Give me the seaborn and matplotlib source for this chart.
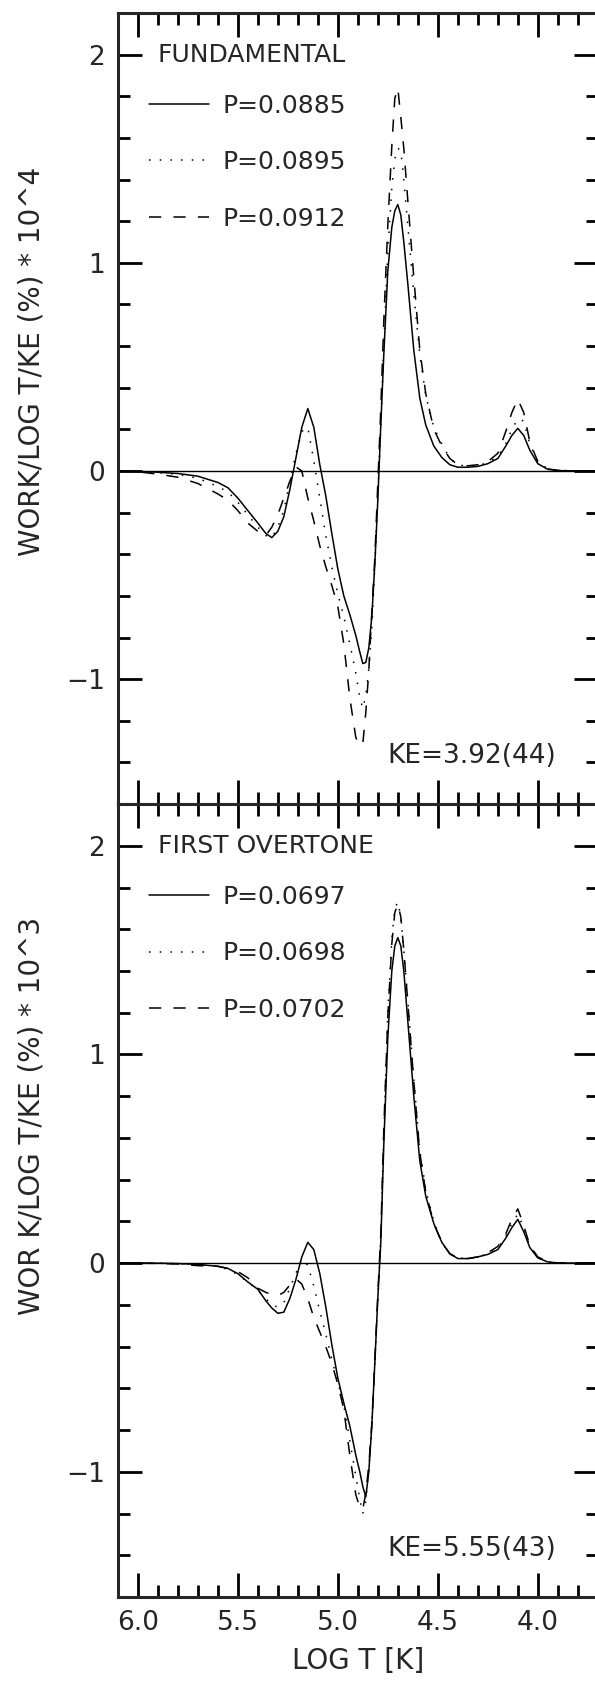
import numpy as np
import pandas as pd
import matplotlib
matplotlib.use('Agg')
import matplotlib.pyplot as plt
from matplotlib.ticker import MultipleLocator
import seaborn as sns

# shared temperature grid (descending, hot -> cool)
log_t = [6.10, 6.00, 5.90, 5.80, 5.70, 5.60, 5.55, 5.50, 5.45, 5.40,
         5.36, 5.33, 5.30, 5.27, 5.24, 5.21, 5.18, 5.15, 5.12, 5.09,
         5.06, 5.03, 5.00, 4.97, 4.94, 4.91, 4.89, 4.875, 4.86, 4.845,
         4.83, 4.815, 4.80, 4.785, 4.77, 4.75, 4.73, 4.715, 4.70, 4.685,
         4.67, 4.65, 4.62, 4.59, 4.56, 4.52, 4.48, 4.44, 4.40, 4.35,
         4.30, 4.25, 4.20, 4.16, 4.13, 4.10, 4.07, 4.04, 4.00, 3.95,
         3.90, 3.80, 3.70]

# fundamental mode, work * 1e4
fund_labels = ['P=0.0885', 'P=0.0895', 'P=0.0912']
fund_0885 = [0, -0.002, -0.006, -0.012, -0.025, -0.055, -0.08, -0.13, -0.19, -0.25,
             -0.30, -0.32, -0.29, -0.22, -0.09, 0.06, 0.21, 0.30, 0.21, 0.03,
             -0.12, -0.30, -0.47, -0.60, -0.69, -0.79, -0.87, -0.925, -0.92, -0.85,
             -0.70, -0.45, -0.14, 0.22, 0.56, 0.96, 1.17, 1.25, 1.28, 1.23,
             1.10, 0.90, 0.58, 0.35, 0.22, 0.12, 0.065, 0.03, 0.018, 0.018,
             0.022, 0.035, 0.06, 0.12, 0.17, 0.205, 0.17, 0.10, 0.035, 0.008,
             0.002, 0, 0]
fund_0895 = [0, -0.003, -0.008, -0.016, -0.035, -0.075, -0.10, -0.15, -0.21, -0.27,
             -0.31, -0.32, -0.27, -0.19, -0.05, 0.08, 0.19, 0.21, 0.05, -0.13,
             -0.31, -0.46, -0.59, -0.70, -0.83, -0.97, -1.09, -1.14, -1.08, -0.95,
             -0.75, -0.45, -0.12, 0.22, 0.60, 1.05, 1.36, 1.50, 1.55, 1.54,
             1.40, 1.18, 0.85, 0.56, 0.36, 0.21, 0.13, 0.06, 0.03, 0.022,
             0.026, 0.04, 0.07, 0.13, 0.20, 0.25, 0.24, 0.13, 0.045, 0.01,
             0.003, 0, 0]
fund_0912 = [0, -0.004, -0.015, -0.03, -0.06, -0.11, -0.14, -0.19, -0.25, -0.29,
             -0.31, -0.27, -0.21, -0.13, -0.05, 0.02, 0.0, -0.13, -0.24, -0.36,
             -0.46, -0.55, -0.65, -0.83, -1.09, -1.28, -1.32, -1.31, -1.16, -0.96,
             -0.68, -0.42, -0.06, 0.30, 0.72, 1.18, 1.56, 1.79, 1.84, 1.70,
             1.55, 1.30, 0.93, 0.58, 0.37, 0.20, 0.12, 0.06, 0.03, 0.025,
             0.03, 0.045, 0.085, 0.19, 0.28, 0.345, 0.28, 0.14, 0.045, 0.01,
             0.003, 0, 0]

# first overtone, work * 1e3
over_labels = ['P=0.0697', 'P=0.0698', 'P=0.0702']
over_0697 = [0, 0, 0, -0.002, -0.006, -0.015, -0.025, -0.05, -0.09, -0.125,
             -0.18, -0.215, -0.24, -0.235, -0.17, -0.08, 0.03, 0.10, 0.065, -0.05,
             -0.21, -0.39, -0.55, -0.67, -0.78, -0.92, -1.00, -1.07, -1.12, -1.00,
             -0.78, -0.48, -0.17, 0.10, 0.57, 1.08, 1.40, 1.52, 1.56, 1.52,
             1.40, 1.16, 0.80, 0.49, 0.32, 0.19, 0.10, 0.045, 0.022, 0.022,
             0.03, 0.042, 0.065, 0.12, 0.17, 0.21, 0.15, 0.075, 0.025, 0.006,
             0.001, 0, 0]
over_0698 = [0, 0, 0, -0.002, -0.006, -0.015, -0.03, -0.055, -0.09, -0.13,
             -0.17, -0.20, -0.21, -0.19, -0.12, -0.05, 0.02, -0.01, -0.11, -0.23,
             -0.34, -0.46, -0.57, -0.68, -0.85, -1.02, -1.13, -1.20, -1.14, -0.98,
             -0.78, -0.48, -0.17, 0.12, 0.62, 1.20, 1.55, 1.70, 1.73, 1.66,
             1.50, 1.26, 0.88, 0.54, 0.35, 0.20, 0.10, 0.045, 0.025, 0.022,
             0.03, 0.045, 0.07, 0.13, 0.19, 0.235, 0.17, 0.08, 0.027, 0.007,
             0.001, 0, 0]
over_0702 = [0, 0, -0.001, -0.004, -0.012, -0.015, -0.025, -0.04, -0.07, -0.12,
             -0.14, -0.15, -0.155, -0.14, -0.105, -0.075, -0.10, -0.17, -0.26, -0.33,
             -0.40, -0.48, -0.58, -0.70, -0.92, -1.11, -1.17, -1.18, -1.10, -0.97,
             -0.77, -0.47, -0.15, 0.14, 0.64, 1.18, 1.53, 1.68, 1.72, 1.66,
             1.50, 1.25, 0.87, 0.53, 0.34, 0.19, 0.10, 0.045, 0.025, 0.022,
             0.03, 0.05, 0.08, 0.14, 0.21, 0.26, 0.18, 0.085, 0.03, 0.007,
             0.001, 0, 0]

panels = [
    ('FUNDAMENTAL', fund_labels, [fund_0885, fund_0895, fund_0912],
     'WORK/LOG T/KE (%) * 10^4', 'KE=3.92(44)', 0.559),
    ('FIRST OVERTONE', over_labels, [over_0697, over_0698, over_0702],
     'WOR K/LOG T/KE (%) * 10^3', 'KE=5.55(43)', 0.607),
]

sns.set_style('ticks')
plt.rcParams['font.family'] = ['DejaVu Sans']
plt.rcParams['axes.linewidth'] = 2.2

fig = plt.figure(figsize=(5.95, 16.92), dpi=100)
ax_top = fig.add_axes([0.198, 0.5248, 0.8067, 0.4675])
ax_bot = fig.add_axes([0.198, 0.0561, 0.8067, 0.4687])

for ax, (title, labels, series, ylab, ke, ylab_y) in zip([ax_top, ax_bot], panels):
    df = pd.DataFrame({
        'logT': log_t * 3,
        'work': series[0] + series[1] + series[2],
        'period': np.repeat(labels, len(log_t)),
    })
    dashes = {labels[0]: '', labels[1]: (1, 6), labels[2]: (8, 8)}
    sns.lineplot(data=df, x='logT', y='work', style='period', style_order=labels,
                 dashes=dashes, color='black', lw=1.1, sort=False,
                 estimator=None, ax=ax)
    ax.axhline(0, color='black', lw=1.0, zorder=0)

    leg = ax.get_legend()
    for h in leg.legend_handles:
        h.set_color('black')
        h.set_linewidth(1.1)
    sns.move_legend(ax, 'upper left', bbox_to_anchor=(0.065, 0.898), title=None,
                    frameon=False, fontsize=18, handlelength=2.4,
                    handletextpad=0.55, labelspacing=1.3, borderpad=0,
                    borderaxespad=0)

    ax.text(5.9, 2.0, title, fontsize=18, ha='left', va='center')
    ax.text(4.75, -1.37, ke, fontsize=19, ha='left', va='center')

    ax.set_xlim(6.1, 3.7)
    ax.set_ylim(-1.6, 2.2)
    ax.xaxis.set_major_locator(MultipleLocator(0.5))
    ax.xaxis.set_minor_locator(MultipleLocator(0.1))
    ax.yaxis.set_major_locator(MultipleLocator(1))
    ax.yaxis.set_minor_locator(MultipleLocator(0.2))
    ax.tick_params(which='both', direction='in', top=True, right=True,
                   labelsize=19, pad=9, color='black')
    ax.tick_params(which='major', length=17, width=2)
    ax.tick_params(which='minor', length=8.5, width=2)
    ax.set_ylabel(ylab, fontsize=20)
    ax.yaxis.set_label_coords(-0.18, ylab_y)
    ax.yaxis.label.set_va('center')
    for s in ax.spines.values():
        s.set_visible(True)

ax_top.set_xlabel('')
ax_top.tick_params(axis='x', labelbottom=False)
ax_bot.set_xlabel('LOG T [K]', fontsize=20, labelpad=8)

fig.savefig('out.png', dpi=100)
